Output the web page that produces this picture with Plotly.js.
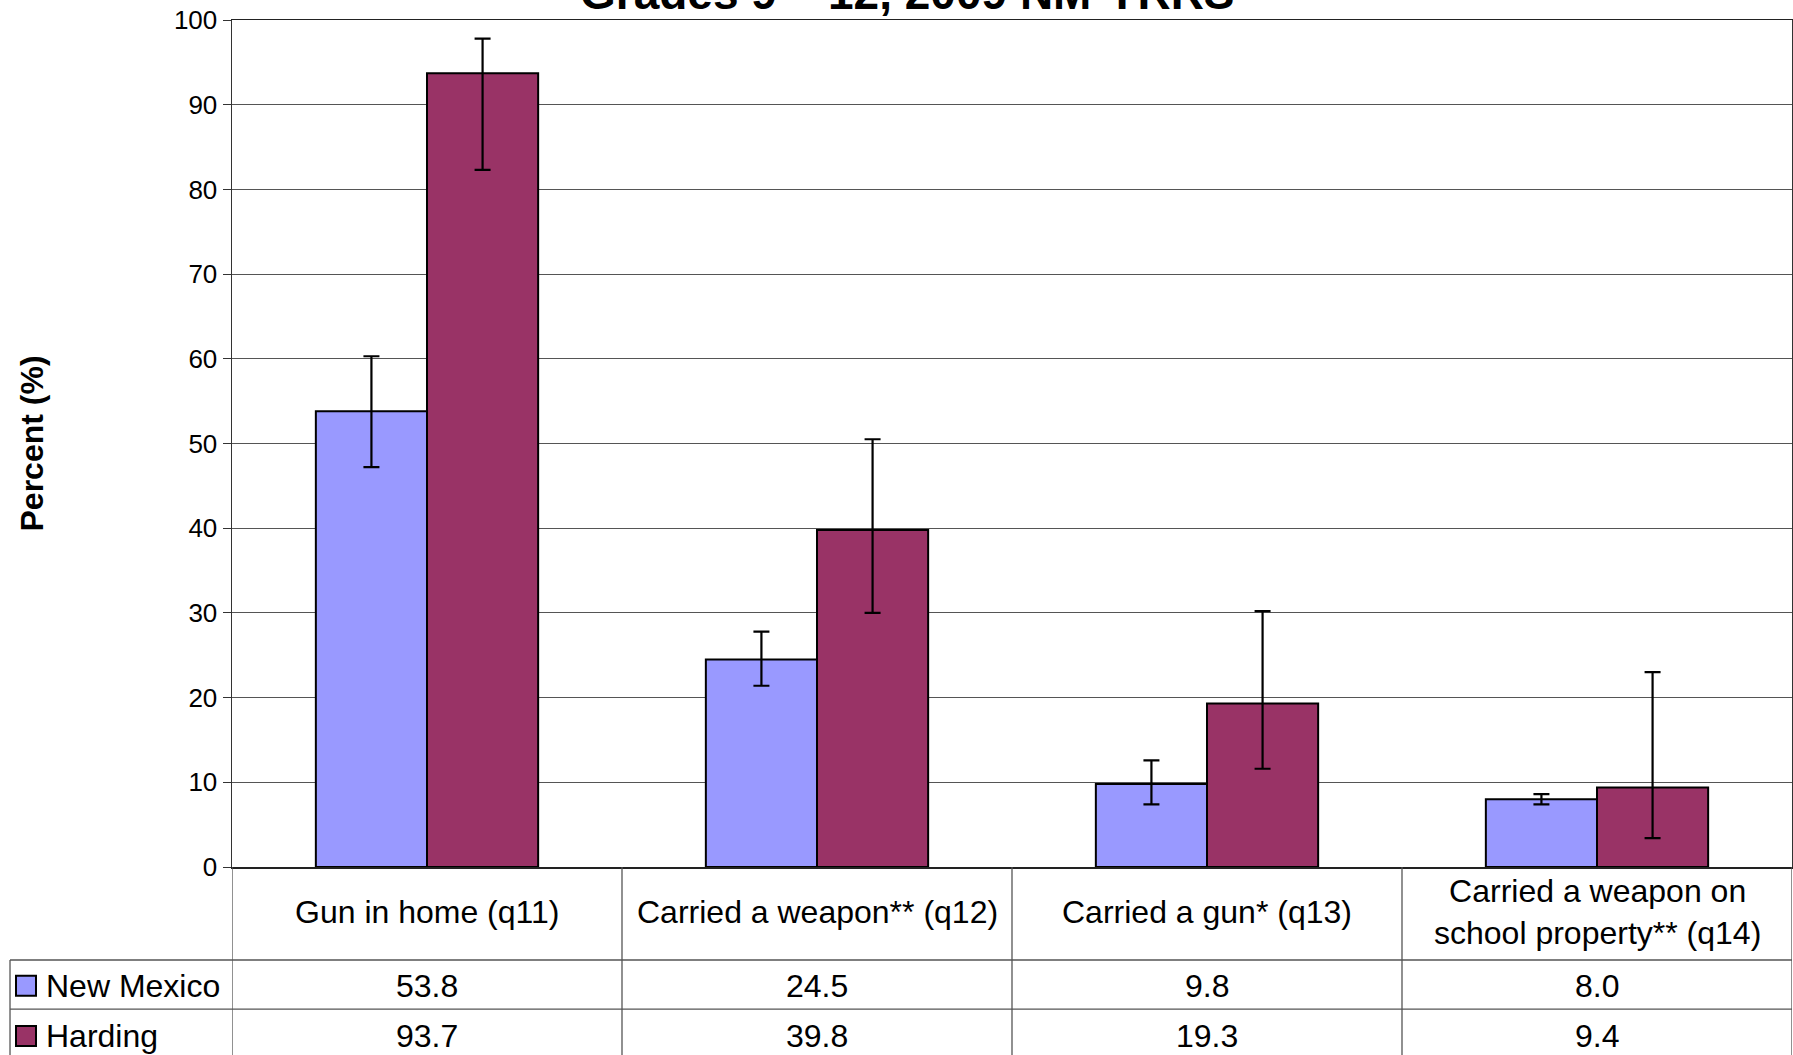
<!DOCTYPE html>
<html>
<head>
<meta charset="utf-8">
<script src="https://cdn.plot.ly/plotly-3.0.1.min.js"></script>
<style>html,body{margin:0;padding:0;background:#fff;}#chart{width:1793px;height:1055px;}</style>
</head>
<body>
<div id="chart"></div>
<script>
// ---- data ----
const categories = ["Gun in home (q11)", "Carried a weapon** (q12)", "Carried a gun* (q13)", "Carried a weapon on<br>school property** (q14)"];
const seriesNames = ["New Mexico", "Harding"];
const nmValues = [53.8, 24.5, 9.8, 8.0];
const nmUpper = [60.3, 27.8, 12.6, 8.6];
const nmLower = [47.2, 21.4, 7.4, 7.4];
const hardingValues = [93.7, 39.8, 19.3, 9.4];
const hardingUpper = [97.8, 50.5, 30.2, 23.0];
const hardingLower = [82.3, 30.0, 11.6, 3.4];
const tickValues = [0, 10, 20, 30, 40, 50, 60, 70, 80, 90, 100];
const titleText = "Grades 9 – 12, 2009 NM-YRRS";
const yTitle = "Percent (%)";
const colors = ["#9999FF", "#993366"];

const FONT = "Liberation Sans, Arial, sans-serif";
const idx = categories.map((c, i) => i);

function errBar(vals, up, lo) {
  return {
    type: 'data', symmetric: false,
    array: vals.map((v, i) => up[i] - v),
    arrayminus: vals.map((v, i) => v - lo[i]),
    color: '#000', thickness: 2.2, width: 8, visible: true
  };
}

const traces = [
  {type: 'bar', name: seriesNames[0], x: idx, y: nmValues,
   marker: {color: colors[0], line: {color: '#000', width: 2}},
   error_y: errBar(nmValues, nmUpper, nmLower), showlegend: false},
  {type: 'bar', name: seriesNames[1], x: idx, y: hardingValues,
   marker: {color: colors[1], line: {color: '#000', width: 2}},
   error_y: errBar(hardingValues, hardingUpper, hardingLower), showlegend: false}
];

// table geometry (paper coords)
const yHeaderBottom = -0.1098, yRow1Bottom = -0.1677, yRow2Bottom = -0.23;
const xLegendLeft = -0.1423;
const lineColor = '#555';
const shapes = [];
for (let i = 0; i <= categories.length; i++) {
  shapes.push({type: 'line', xref: 'x', yref: 'paper', x0: i - 0.5, x1: i - 0.5, y0: 0, y1: yRow2Bottom,
    line: {color: lineColor, width: 1.3}, layer: 'above'});
}
shapes.push({type: 'line', xref: 'paper', yref: 'paper', x0: xLegendLeft, x1: xLegendLeft, y0: yHeaderBottom, y1: yRow2Bottom,
  line: {color: lineColor, width: 1.3}});
[yHeaderBottom, yRow1Bottom].forEach(yy => shapes.push({type: 'line', xref: 'paper', yref: 'paper', x0: xLegendLeft, x1: 1, y0: yy, y1: yy,
  line: {color: lineColor, width: 1.3}}));

const rowY = [-0.1401, -0.1995];
const sqX0 = (16 - 232) / 1560, sqX1 = (36 - 232) / 1560;
rowY.forEach((ry, k) => {
  shapes.push({type: 'rect', xref: 'paper', yref: 'paper', x0: sqX0, x1: sqX1, y0: ry - 0.0118, y1: ry + 0.0118,
    fillcolor: colors[k], line: {color: '#000', width: 2}});
});

const annotations = [];
categories.forEach((c, i) => annotations.push({xref: 'x', yref: 'paper', x: i, y: -0.0537, text: c, showarrow: false,
  xanchor: 'center', yanchor: 'middle', font: {family: FONT, size: 32, color: '#000'}}));
[nmValues, hardingValues].forEach((vals, k) => vals.forEach((v, i) => annotations.push({xref: 'x', yref: 'paper', x: i, y: rowY[k],
  text: v.toFixed(1), showarrow: false, xanchor: 'center', yanchor: 'middle', font: {family: FONT, size: 32, color: '#000'}})));
seriesNames.forEach((n, k) => annotations.push({xref: 'paper', yref: 'paper', x: (44 - 232) / 1560, y: rowY[k], text: n, showarrow: false,
  xanchor: 'left', yanchor: 'middle', font: {family: FONT, size: 32, color: '#000'}}));
annotations.push({xref: 'paper', yref: 'paper', x: (31 - 232) / 1560, y: 0.5, text: '<b>' + yTitle + '</b>', textangle: -90,
  showarrow: false, xanchor: 'center', yanchor: 'middle', font: {family: FONT, size: 32, color: '#000'}});
annotations.push({xref: 'paper', yref: 'paper', x: 0.433, y: 1.0319, text: '<b>' + titleText + '</b>', showarrow: false,
  xanchor: 'center', yanchor: 'middle', font: {family: FONT, size: 46, color: '#000'}});

const layout = {
  width: 1793, height: 1055,
  margin: {l: 232, r: 1, t: 20, b: 188, pad: 0},
  paper_bgcolor: '#fff', plot_bgcolor: '#fff',
  barmode: 'group', bargap: 0.43, bargroupgap: 0,
  xaxis: {type: 'linear', range: [-0.5, categories.length - 0.5], showticklabels: false, showgrid: false, zeroline: false,
    showline: true, linecolor: '#222', linewidth: 1.5, mirror: true, ticks: ''},
  yaxis: {range: [0, 100], tickvals: tickValues, ticktext: tickValues.map(String), showgrid: true, gridcolor: '#555', gridwidth: 1,
    zeroline: false, showline: true, linecolor: '#333', linewidth: 1.5, mirror: true, ticks: 'outside', ticklen: 8, tickcolor: '#333',
    tickfont: {family: FONT, size: 26, color: '#000'}},
  shapes: shapes,
  annotations: annotations,
  font: {family: FONT}
};

Plotly.newPlot('chart', traces, layout, {staticPlot: true, displayModeBar: false});
</script>
</body>
</html>
